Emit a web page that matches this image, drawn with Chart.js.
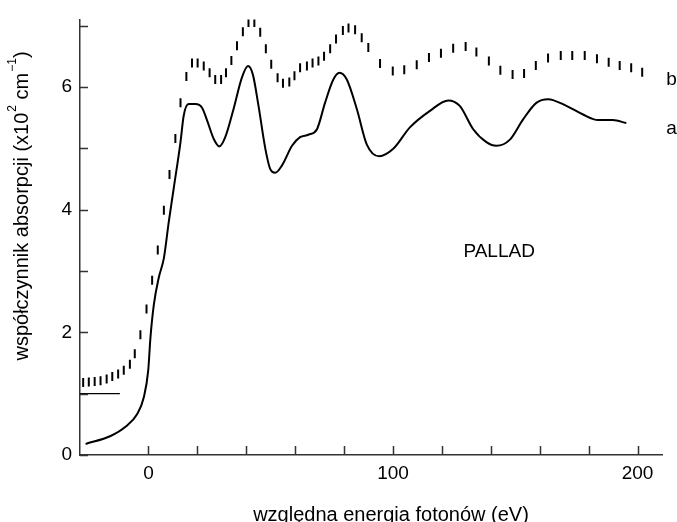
<!DOCTYPE html>
<html lang="pl">
<head>
<meta charset="UTF-8">
<title>Pallad - współczynnik absorpcji</title>
<script src="https://cdn.jsdelivr.net/npm/chart.js"></script>
<style>
  html, body { margin: 0; padding: 0; background: #fff; }
  #wrap { width: 677px; height: 522px; }
</style>
</head>
<body>
<div id="wrap"><canvas id="chart"></canvas></div>
<script>
// curve a (solid line)
const aX = [-25.7, -15.5, -9.4, -4.6, -1.9, -0.1, 0.8, 2.2, 4.2, 6.3, 8.3, 10.3, 13.1, 14.4, 16.4, 19.2, 21.9, 24.0,
  26.7, 29.0, 31.4, 34.8, 38.2, 40.7, 42.7, 45.0, 47.8, 49.8, 51.8, 54.6, 58.7, 62.0, 65.4, 68.9, 72.2, 75.6, 78.1,
  81.1, 85.2, 89.3, 94.3, 100.1, 106.9, 115.1, 122.6, 127.3, 132.8, 138.2, 142.3, 147.8, 153.2, 158.6, 163.4, 170.9,
  177.7, 183.8, 189.9, 195.4];
const aY = [0.18, 0.31, 0.46, 0.67, 0.94, 1.38, 1.91, 2.45, 2.89, 3.21, 3.80, 4.34, 5.10, 5.53, 5.72, 5.72, 5.66, 5.45,
  5.15, 5.03, 5.18, 5.64, 6.15, 6.34, 6.20, 5.69, 4.99, 4.66, 4.60, 4.72, 5.04, 5.18, 5.22, 5.31, 5.74, 6.12, 6.23,
  6.12, 5.64, 5.06, 4.87, 4.99, 5.34, 5.61, 5.78, 5.69, 5.31, 5.10, 5.04, 5.14, 5.47, 5.74, 5.80, 5.69,
  5.55, 5.46, 5.46, 5.41];

// curve b (dashes)
const bX = [-26.7, -24.4, -22.0, -19.6, -17.1, -14.8, -12.4, -10.1, -7.6, -5.6, -3.3, -0.8, 1.5, 3.8, 6.3, 8.6,
  11.0, 13.1, 15.5, 17.8, 20.1, 22.6, 25.0, 27.3, 29.7, 31.7, 33.9, 36.2, 38.6, 40.9, 43.3, 45.7, 48.0, 50.2,
  52.8, 55.0, 57.6, 59.7, 62.0, 64.8, 67.1, 69.5, 71.8, 74.3, 76.7, 79.5, 81.8, 84.5, 87.2, 89.9,
  94.7, 99.9, 104.6, 109.7, 114.7, 119.6, 124.6, 129.7, 134.1, 139.2, 143.9, 148.9, 153.6, 158.4, 163.4,
  168.6, 173.3, 178.4, 183.4, 188.2, 192.7, 197.4, 201.9];
const bY = [1.18, 1.19, 1.20, 1.21, 1.24, 1.28, 1.32, 1.38, 1.48, 1.65, 1.96, 2.38, 2.85, 3.34, 3.99, 4.57,
  5.16, 5.74, 6.17, 6.39, 6.39, 6.34, 6.23, 6.12, 6.12, 6.23, 6.43, 6.67, 6.90, 7.05, 7.05, 6.89, 6.62, 6.37,
  6.15, 6.06, 6.08, 6.18, 6.31, 6.34, 6.39, 6.42, 6.50, 6.62, 6.78, 6.92, 6.96, 6.93, 6.80, 6.64,
  6.38, 6.26, 6.28, 6.36, 6.48, 6.55, 6.63, 6.66, 6.57, 6.42, 6.27, 6.20, 6.22, 6.35, 6.47,
  6.51, 6.51, 6.51, 6.46, 6.40, 6.35, 6.31, 6.24];

// short baseline at y = 1
const baseX = [-28, -11.7];
const baseY = [1, 1];

const xTicks = [0, 20, 40, 60, 80, 100, 120, 140, 160, 180, 200];
const yTicks = [0, 1, 2, 3, 4, 5, 6, 7];

const notes = [
  { text: 'PALLAD', x: 143.4, y: 3.31, align: 'center' },
  { text: 'b', x: 211.7, y: 6.12, align: 'left' },
  { text: 'a', x: 211.7, y: 5.31, align: 'left' }
];

const xTitle = 'względna energia fotonów (eV)';

const FONT = 'Liberation Sans, Arial, sans-serif';

function pts(xs, ys) {
  return xs.map((x, i) => ({ x: x, y: ys[i] }));
}

// inward tick marks, axis titles (with superscripts), text notes
const extras = {
  id: 'extras',
  afterDraw(chart) {
    const ctx = chart.ctx;
    const xs = chart.scales.x, ys = chart.scales.y;
    const area = chart.chartArea;
    ctx.save();
    ctx.strokeStyle = '#333';
    ctx.lineWidth = 1.5;
    ctx.beginPath();
    xTicks.forEach(v => {
      const px = Math.round(xs.getPixelForValue(v)) + 0.5;
      ctx.moveTo(px, area.bottom);
      ctx.lineTo(px, area.bottom - 9);
    });
    yTicks.forEach(v => {
      const py = Math.round(ys.getPixelForValue(v)) + 0.5;
      ctx.moveTo(area.left, py);
      ctx.lineTo(area.left + 8, py);
    });
    ctx.stroke();

    ctx.fillStyle = '#000';
    ctx.font = '19px ' + FONT;
    ctx.textBaseline = 'middle';
    notes.forEach(n => {
      ctx.textAlign = n.align;
      ctx.fillText(n.text, xs.getPixelForValue(n.x), ys.getPixelForValue(n.y));
    });

    // x axis title
    ctx.font = '20px ' + FONT;
    ctx.textAlign = 'center';
    ctx.fillText(xTitle, 391, 515);

    // y axis title
    const parts = [
      ['współczynnik absorpcji (x10', false],
      ['2', true],
      [' cm', false],
      ['\u2212' + '1', true],
      [')', false]
    ];
    const big = '20px ' + FONT, small = '12px ' + FONT;
    let total = 0;
    parts.forEach(p => { ctx.font = p[1] ? small : big; total += ctx.measureText(p[0]).width + (p[1] ? 1 : 0); });
    ctx.translate(28, 206);
    ctx.rotate(-Math.PI / 2);
    ctx.textAlign = 'left';
    ctx.textBaseline = 'alphabetic';
    let cx = -total / 2;
    parts.forEach(p => {
      ctx.font = p[1] ? small : big;
      ctx.fillText(p[0], cx + (p[1] ? 1 : 0), p[1] ? -12 : 0);
      cx += ctx.measureText(p[0]).width + (p[1] ? 1 : 0);
    });
    ctx.restore();
  }
};

new Chart(document.getElementById('chart'), {
  type: 'scatter',
  data: {
    datasets: [{
      label: 'a',
      data: pts(aX, aY),
      showLine: true,
      borderColor: '#000',
      borderWidth: 2,
      pointRadius: 0,
      cubicInterpolationMode: 'monotone'
    }, {
      label: 'b',
      data: pts(bX, bY),
      showLine: false,
      pointStyle: 'line',
      rotation: 90,
      pointRadius: 4.5,
      borderColor: '#000',
      backgroundColor: '#000',
      borderWidth: 2
    }, {
      label: 'base',
      data: pts(baseX, baseY),
      showLine: true,
      borderColor: '#000',
      borderWidth: 1.2,
      pointRadius: 0
    }]
  },
  options: {
    responsive: true,
    maintainAspectRatio: false,
    animation: false,
    layout: { padding: { top: 15, right: 15, left: 0, bottom: 0 } },
    plugins: { legend: { display: false }, tooltip: { enabled: false } },
    scales: {
      x: {
        type: 'linear',
        min: -28,
        max: 210,
        afterBuildTicks: s => { s.ticks = xTicks.map(v => ({ value: v })); },
        afterFit: s => { s.height = 67; },
        grid: { display: true, drawOnChartArea: false, drawTicks: false },
        border: { display: true, color: '#333', width: 1.5 },
        ticks: {
          color: '#000',
          padding: 7,
          maxRotation: 0,
          autoSkip: false,
          font: { family: FONT, size: 19 },
          callback: v => (v % 100 === 0 ? v : '')
        }
      },
      y: {
        type: 'linear',
        min: 0,
        max: 7.1,
        afterBuildTicks: s => { s.ticks = yTicks.map(v => ({ value: v })); },
        afterFit: s => { s.width = 80; },
        grid: { display: true, drawOnChartArea: false, drawTicks: false },
        border: { display: true, color: '#333', width: 1.5 },
        ticks: {
          color: '#000',
          padding: 8,
          autoSkip: false,
          font: { family: FONT, size: 19 },
          callback: v => (v % 2 === 0 ? v : '')
        }
      }
    }
  },
  plugins: [extras]
});
</script>
</body>
</html>
